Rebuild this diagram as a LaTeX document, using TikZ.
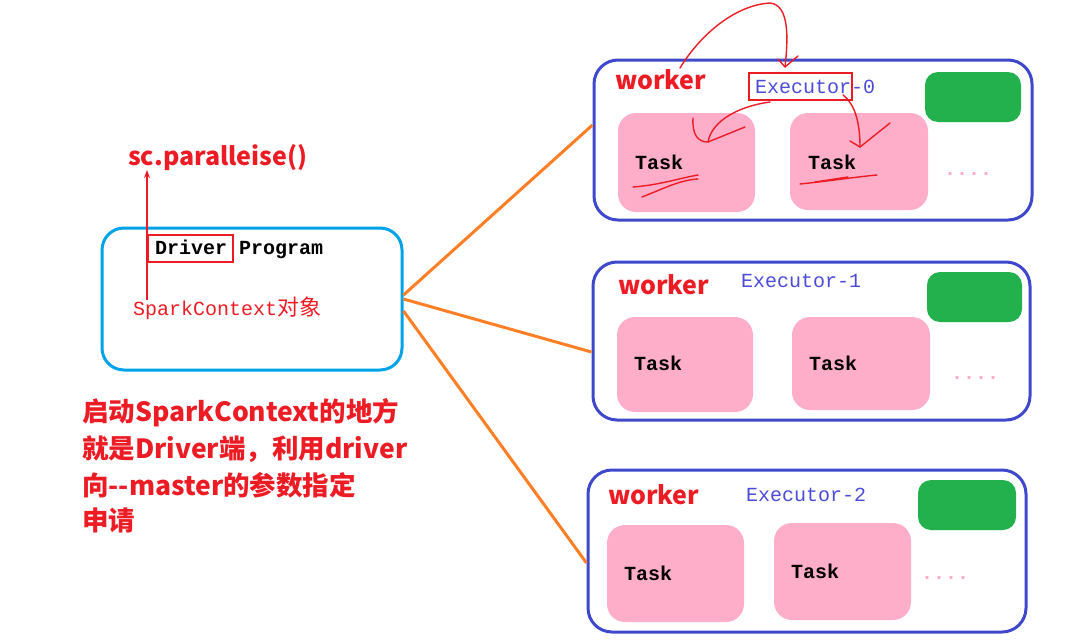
\documentclass[tikz,border=0pt]{standalone}
\usepackage{fontspec}
\newfontfamily\cjk{Noto Sans CJK SC}
\newfontfamily\mono{Liberation Mono}
\usetikzlibrary{arrows.meta}
\definecolor{wblue}{RGB}{63,72,204}
\definecolor{dcyan}{RGB}{0,162,232}
\definecolor{orng}{RGB}{255,127,39}
\definecolor{grn}{RGB}{34,177,76}
\definecolor{pnk}{RGB}{255,174,201}
\definecolor{dotpnk}{RGB}{255,170,200}
\definecolor{rd}{RGB}{237,28,36}
\definecolor{exblue}{RGB}{75,75,215}
\begin{document}
\begin{tikzpicture}[x=1pt,y=-1pt,
  wbox/.style={draw=wblue,line width=3pt,rounded corners=24pt,inner sep=0pt},
  dbox/.style={draw=dcyan,line width=3pt,rounded corners=22pt,inner sep=0pt},
  gbox/.style={fill=grn,rounded corners=13pt,inner sep=0pt},
  tbox/.style={fill=pnk,rounded corners=18pt,inner sep=0pt},
  redbox/.style={draw=rd,line width=2pt,inner sep=0pt},
  redlbl/.style={text=rd,font=\cjk\bfseries\fontsize{25}{30}\selectfont,inner sep=0pt,anchor=west},
  notelbl/.style={text=rd,font=\cjk\bfseries\fontsize{26.5}{30}\selectfont,inner sep=0pt,anchor=west},
  wklbl/.style={text=rd,font=\cjk\bfseries\fontsize{25}{30}\selectfont,inner sep=0pt,anchor=west},
  exlbl/.style={text=exblue,font=\mono\fontsize{20}{24}\selectfont,inner sep=0pt,anchor=west},
  tasklbl/.style={text=black,font=\mono\bfseries\fontsize{20}{24}\selectfont,inner sep=0pt,anchor=west},
  dots/.style={text=dotpnk,font=\mono\bfseries\fontsize{20}{24}\selectfont,inner sep=0pt,anchor=base west},
  link/.style={draw=orng,line width=3pt},
  pen/.style={draw=rd,line width=1.4pt,line cap=round,line join=round}
]
\useasboundingbox (0,0) rectangle (1065,640);

% Driver
\node[dbox,minimum width=300pt,minimum height=142pt] (drv) at (252,299) {};
\node[tasklbl] (dp) at (155,249) {Driver Program};
\node[redbox,minimum width=85pt,minimum height=27pt] (drvbox) at (190.5,248.5) {};
\node[inner sep=0pt,anchor=west,text=rd] (sctx) at (133,308) {\mono\fontsize{20}{24}\selectfont SparkContext\cjk\fontsize{22}{24}\selectfont 对象};
\node[redlbl] (scp) at (128,158) {sc.paralleise()};
\coordinate (arrS) at (147,300);
\coordinate (arrE) at (147,170);
\draw[draw=rd,line width=1.4pt,-{Stealth[length=8pt,width=6pt]}] (arrS) -- (arrE);

% bottom-left text
\node[notelbl] (t1) at (82,413) {启动SparkContext的地方};
\node[notelbl] (t2) at (82,449) {就是Driver端，利用driver};
\node[notelbl] (t3) at (82,485) {向--master的参数指定};
\node[notelbl] (t4) at (82,520) {申请};

% Workers
\node[wbox,minimum width=438pt,minimum height=160pt] (w0) at (813,140) {};
\node[wbox,minimum width=437pt,minimum height=158pt] (w1) at (811.5,341) {};
\node[wbox,minimum width=438pt,minimum height=162pt] (w2) at (807,551) {};

\node[wklbl] (wk0) at (615,80) {worker};
\node[wklbl] (wk1) at (618,285) {worker};
\node[wklbl] (wk2) at (608,495) {worker};

\node[exlbl] (ex0) at (755,87) {Executor-0};
\node[exlbl] (ex1) at (741,281) {Executor-1};
\node[exlbl] (ex2) at (746,495) {Executor-2};
\node[redbox,minimum width=103pt,minimum height=27pt] (exbox) at (800.5,86.5) {};

\node[gbox,minimum width=96pt,minimum height=50pt] (g0) at (973,97) {};
\node[gbox,minimum width=95pt,minimum height=50pt] (g1) at (974.5,297) {};
\node[gbox,minimum width=98pt,minimum height=50pt] (g2) at (967,505) {};

\node[tbox,minimum width=137pt,minimum height=99pt] (t00) at (686.5,162.5) {};
\node[tbox,minimum width=138pt,minimum height=97pt] (t01) at (859,161.5) {};
\node[tbox,minimum width=136pt,minimum height=95pt] (t10) at (685,364.5) {};
\node[tbox,minimum width=138pt,minimum height=93pt] (t11) at (861,363.5) {};
\node[tbox,minimum width=137pt,minimum height=97pt] (t20) at (675.5,573.5) {};
\node[tbox,minimum width=137pt,minimum height=97pt] (t21) at (842.5,571.5) {};

\node[tasklbl] (tl00) at (635,162) {Task};
\node[tasklbl] (tl01) at (808,162) {Task};
\node[tasklbl] (tl10) at (634,363) {Task};
\node[tasklbl] (tl11) at (809,363) {Task};
\node[tasklbl] (tl20) at (624,573) {Task};
\node[tasklbl] (tl21) at (791,571) {Task};

\node[dots] (d0) at (944,175) {....};
\node[dots] (d1) at (951,379) {....};
\node[dots] (d2) at (921,579) {....};

% Orange links
\draw[link] ([yshift=4pt]drv.east) -- ([yshift=15pt]w0.west);
\draw[link] (drv.east) -- ([yshift=-11pt]w1.west);
\draw[link] ([yshift=-12pt]drv.east) -- ([yshift=-12pt]w2.west);

% Red hand-drawn annotations
\coordinate (a1s) at (680,68);
\coordinate (a1e) at (785,67);
\draw[pen] (a1s) .. controls (700,35) and (735,5) .. (770,3) .. controls (790,5) and (788,40) .. (a1e);
\draw[pen] (778,59) -- (a1e) -- (798,56);
\coordinate (a2s) at (770,102);
\coordinate (a2e) at (708,142);
\draw[pen] (a2s) .. controls (740,106) and (712,120) .. (a2e);
\draw[pen] (693,118) .. controls (692,135) and (698,142) .. (a2e) -- (745,127);
\coordinate (a3s) at (843,95);
\coordinate (a3e) at (860,147);
\draw[pen] (a3s) .. controls (856,105) and (860,125) .. (a3e);
\draw[pen] (850,141) -- (a3e) -- (890,123);
\draw[pen] (633,187) .. controls (660,185) and (680,178) .. (698,175);
\draw[pen] (642,197) .. controls (665,188) and (680,180) .. (698,179);
\draw[pen] (800,184) .. controls (830,181) and (855,177) .. (877,175);
\draw[pen] (815,182) -- (848,177);
\end{tikzpicture}
\end{document}
